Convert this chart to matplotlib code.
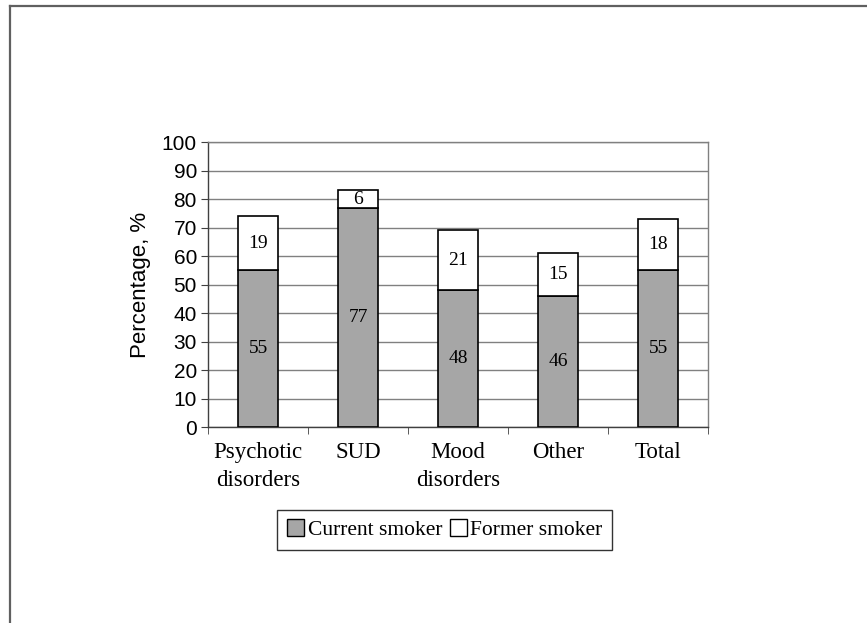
import matplotlib
matplotlib.use("Agg")
import matplotlib.pyplot as plt
from matplotlib.lines import Line2D
from matplotlib.patches import Patch
import numpy as np

# Data
categories = ["Psychotic\ndisorders", "SUD", "Mood\ndisorders", "Other", "Total"]
current_smoker = [55, 77, 48, 46, 55]
former_smoker = [19, 6, 21, 15, 18]
series_names = ["Current smoker", "Former smoker"]

GRAY_FILL = "#A6A6A6"
GRID = "#808080"
SERIF = "Liberation Serif"
SANS = "Liberation Sans"

fig = plt.figure(figsize=(8.67, 6.23), dpi=100)
ax = fig.add_axes([0.240, 0.3146, 0.5767, 0.4574])

x = np.arange(len(categories))
width = 0.4
ax.bar(x, current_smoker, width, color=GRAY_FILL, edgecolor="black", linewidth=1.2, zorder=3)
ax.bar(x, former_smoker, width, bottom=current_smoker, color="white",
       edgecolor="black", linewidth=1.2, zorder=3)

# Segment labels
for xi, c, f in zip(x, current_smoker, former_smoker):
    ax.text(xi, c / 2, str(c), ha="center", va="center", fontsize=14, family=SERIF, zorder=4)
    ax.text(xi, c + f / 2, str(f), ha="center", va="center", fontsize=14, family=SERIF, zorder=4)

ax.set_xlim(-0.5, len(categories) - 0.5)
ax.set_ylim(0, 100)
ax.set_yticks(range(0, 101, 10))
ax.yaxis.grid(True, color=GRID, linewidth=1.0, zorder=0)
ax.set_axisbelow(True)

for side in ["top", "right", "left", "bottom"]:
    ax.spines[side].set_color(GRID)
    ax.spines[side].set_linewidth(1.0)
ax.spines["left"].set_color("#404040")
ax.spines["bottom"].set_color("#404040")

ax.tick_params(axis="y", direction="out", length=5, color="#404040", labelsize=15, pad=3)
for lab in ax.get_yticklabels():
    lab.set_family(SANS)

ax.set_xticks(x)
ax.set_xticklabels(categories, fontsize=16.5, family=SERIF, linespacing=1.45)
ax.tick_params(axis="x", which="major", length=0, pad=11)
ax.set_xticks(np.arange(-0.5, len(categories), 1.0), minor=True)
ax.tick_params(axis="x", which="minor", direction="out", length=5, color="#404040")

ax.set_ylabel("Percentage, %", fontsize=16, family=SANS, labelpad=8)

# Legend
handles = [Patch(facecolor=GRAY_FILL, edgecolor="black", linewidth=1.0),
           Patch(facecolor="white", edgecolor="black", linewidth=1.0)]
leg = fig.legend(handles, series_names, loc="center", bbox_to_anchor=(0.513, 0.150),
                 ncol=2, frameon=True, fancybox=False, handlelength=0.8, handleheight=0.8,
                 handletextpad=0.15, columnspacing=0.35, borderpad=0.45,
                 prop={"family": SERIF, "size": 15.5})
leg.get_frame().set_edgecolor("black")
leg.get_frame().set_linewidth(1.0)

# Outer frame (top and left edges)
fig.add_artist(Line2D([0.0115, 1.0], [0.9896, 0.9896], transform=fig.transFigure,
                      color="#606060", linewidth=1.6))
fig.add_artist(Line2D([0.0115, 0.0115], [0.0, 0.9896], transform=fig.transFigure,
                      color="#606060", linewidth=1.6))

fig.savefig("out.png", dpi=100, facecolor="white")
